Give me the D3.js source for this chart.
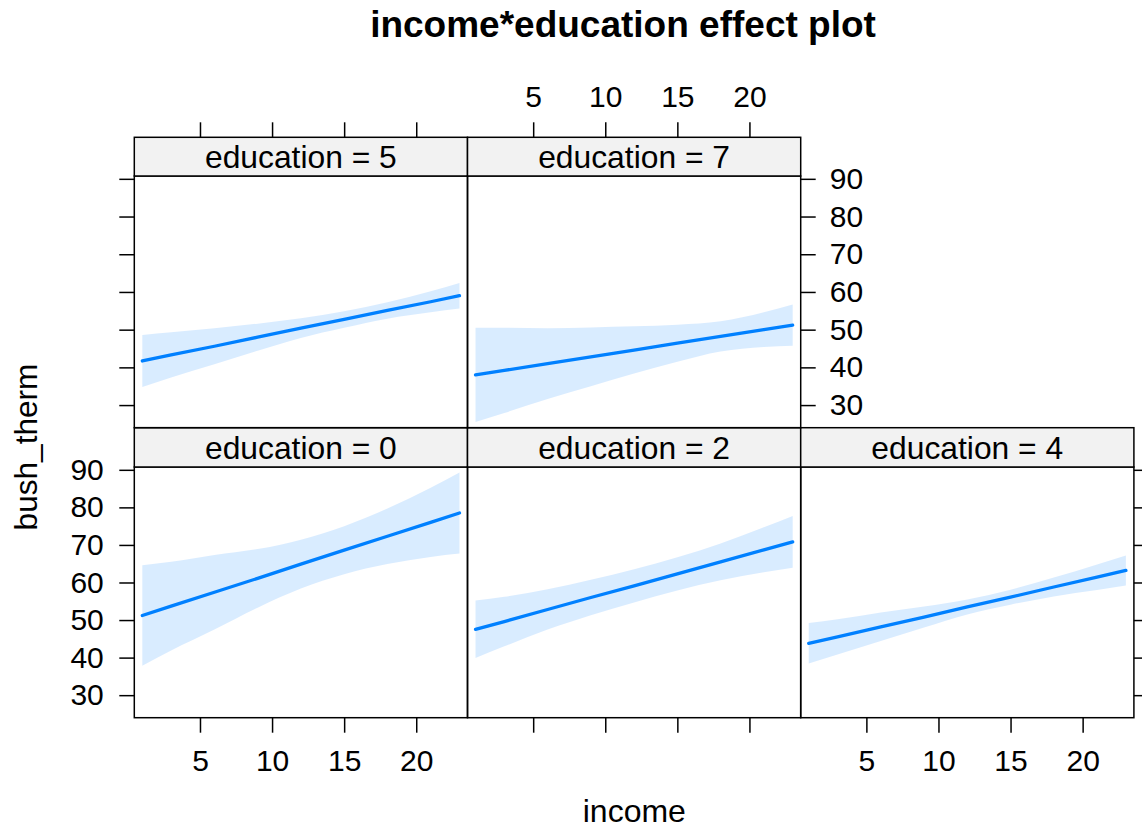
<!DOCTYPE html>
<html>
<head>
<meta charset="utf-8">
<script src="https://cdn.jsdelivr.net/npm/d3@7"></script>
<style>
  body { margin: 0; background: #ffffff; }
  svg { display: block; }
</style>
</head>
<body>
<svg id="chart" width="1142" height="829"></svg>
<script>
// Conditioning levels of education, one panel each
const educationLevels = [0, 2, 4, 5, 7];
// Income values at which the effect and its confidence band are evaluated
const incomeLevels = [1, 3, 6, 9, 12, 15, 18, 21, 23];
const incomeTicks = [5, 10, 15, 20];
const thermTicks = [30, 40, 50, 60, 70, 80, 90];

// Fitted bush_therm and 95% band, by education level
const fitEdu0   = [51.2, 53.7, 57.4, 61.1, 64.9, 68.6, 72.3, 76.0, 78.5];
const lowerEdu0 = [37.8, 41.9, 47.5, 53.3, 58.4, 62.2, 64.9, 66.8, 67.7];
const upperEdu0 = [64.6, 65.5, 67.3, 68.9, 71.4, 75.0, 79.7, 85.2, 89.3];

const fitEdu2   = [47.5, 49.6, 52.8, 56.0, 59.1, 62.3, 65.5, 68.7, 70.8];
const lowerEdu2 = [39.9, 43.0, 47.5, 51.3, 54.7, 57.9, 60.6, 62.7, 63.9];
const upperEdu2 = [55.2, 56.2, 58.2, 60.7, 63.5, 66.7, 70.4, 74.7, 77.7];

const fitEdu4   = [43.8, 45.5, 48.2, 50.8, 53.5, 56.1, 58.8, 61.4, 63.2];
const lowerEdu4 = [38.4, 40.8, 44.4, 48.0, 51.5, 54.1, 56.3, 58.0, 59.2];
const upperEdu4 = [49.2, 50.2, 52.0, 53.6, 55.5, 58.1, 61.3, 64.8, 67.2];

const fitEdu5   = [41.7, 43.3, 45.6, 48.0, 50.4, 52.7, 55.1, 57.4, 59.0];
const lowerEdu5 = [34.8, 37.3, 40.8, 44.4, 47.8, 50.5, 52.9, 54.6, 55.6];
const upperEdu5 = [48.6, 49.3, 50.4, 51.6, 53.0, 54.9, 57.3, 60.2, 62.4];

const fitEdu7   = [38.0, 39.2, 41.0, 42.8, 44.6, 46.4, 48.2, 50.0, 51.2];
const lowerEdu7 = [25.5, 27.9, 31.6, 35.0, 38.4, 41.5, 44.2, 45.4, 45.7];
const upperEdu7 = [50.5, 50.5, 50.4, 50.6, 50.9, 51.3, 52.2, 54.6, 56.7];

const fits   = [fitEdu0, fitEdu2, fitEdu4, fitEdu5, fitEdu7];
const lowers = [lowerEdu0, lowerEdu2, lowerEdu4, lowerEdu5, lowerEdu7];
const uppers = [upperEdu0, upperEdu2, upperEdu4, upperEdu5, upperEdu7];

// ---- layout -------------------------------------------------------------
const FONT = "'Liberation Sans', Arial, Helvetica, sans-serif";
const LINE_COLOR = "#0080FF";
const colLeft = [134.3, 467.5, 800.7];
const colW = 333.2;
// row 0 = bottom row, row 1 = top row
const rowsGeom = [
  { stripTop: 427.7, panelTop: 467.0, panelBottom: 717.7 },
  { stripTop: 137.3, panelTop: 176.0, panelBottom: 427.7 }
];
const TICK = 15;

const svg = d3.select("#chart");

const x = d3.scaleLinear().domain([0.444, 23.556]).range([0, colW]);
const yFor = g => d3.scaleLinear().domain([24.0, 90.75]).range([g.panelBottom, g.panelTop]);

const panels = educationLevels.map((edu, i) => ({
  edu,
  col: i < 3 ? i : i - 3,
  row: i < 3 ? 0 : 1,
  pts: incomeLevels.map((inc, k) => ({ inc, fit: fits[i][k], lo: lowers[i][k], hi: uppers[i][k] }))
}));

function styleAxis(g) {
  g.select(".domain").remove();
  g.selectAll(".tick line").attr("stroke", "#000").attr("stroke-width", 1.5);
  g.selectAll(".tick text")
    .attr("fill", "#000")
    .style("font-family", FONT)
    .style("font-size", "30px");
}

panels.forEach(p => {
  const g0 = rowsGeom[p.row];
  const y = yFor(g0);
  const left = colLeft[p.col];
  const pg = svg.append("g").attr("transform", `translate(${left},0)`);

  // confidence band
  pg.append("path")
    .datum(p.pts)
    .attr("d", d3.area().x(d => x(d.inc)).y0(d => y(d.lo)).y1(d => y(d.hi)).curve(d3.curveMonotoneX))
    .attr("fill", LINE_COLOR)
    .attr("fill-opacity", 0.15)
    .attr("stroke", "none");

  // fitted effect line
  pg.append("path")
    .datum(p.pts)
    .attr("d", d3.line().x(d => x(d.inc)).y(d => y(d.fit)))
    .attr("fill", "none")
    .attr("stroke", LINE_COLOR)
    .attr("stroke-width", 3.3)
    .attr("stroke-linecap", "round");

  // panel frame
  pg.append("rect")
    .attr("x", 0).attr("y", g0.panelTop)
    .attr("width", colW).attr("height", g0.panelBottom - g0.panelTop)
    .attr("fill", "none").attr("stroke", "#000").attr("stroke-width", 1.5);

  // strip
  pg.append("rect")
    .attr("x", 0).attr("y", g0.stripTop)
    .attr("width", colW).attr("height", g0.panelTop - g0.stripTop)
    .attr("fill", "#F2F2F2").attr("stroke", "#000").attr("stroke-width", 1.5);
  pg.append("text")
    .attr("x", colW / 2).attr("y", g0.panelTop - 7.7)
    .attr("text-anchor", "middle")
    .style("font-family", FONT).style("font-size", "31.8px")
    .attr("fill", "#000")
    .text(`education = ${p.edu}`);

  // x axes: bottom row below, top row above the strip
  if (p.row === 0) {
    const labelled = p.col !== 1;
    pg.append("g")
      .attr("transform", `translate(0,${g0.panelBottom})`)
      .call(d3.axisBottom(x).tickValues(incomeTicks).tickSize(TICK).tickPadding(17.5)
        .tickFormat(labelled ? d3.format("d") : () => ""))
      .call(styleAxis);
  } else {
    const labelled = p.col === 1;
    pg.append("g")
      .attr("transform", `translate(0,${g0.stripTop})`)
      .call(d3.axisTop(x).tickValues(incomeTicks).tickSize(TICK).tickPadding(15)
        .tickFormat(labelled ? d3.format("d") : () => ""))
      .call(styleAxis);
  }

  // y axes on the outer edges of each row
  if (p.col === 0) {
    const labelled = p.row === 0;
    pg.append("g")
      .call(d3.axisLeft(y).tickValues(thermTicks).tickSize(TICK).tickPadding(15.5)
        .tickFormat(labelled ? d3.format("d") : () => ""))
      .call(styleAxis);
  }
  const lastCol = p.row === 0 ? 2 : 1;
  if (p.col === lastCol) {
    const labelled = p.row === 1;
    pg.append("g")
      .attr("transform", `translate(${colW},0)`)
      .call(d3.axisRight(y).tickValues(thermTicks).tickSize(TICK).tickPadding(14)
        .tickFormat(labelled ? d3.format("d") : () => ""))
      .call(styleAxis);
  }
});

// titles
svg.append("text")
  .attr("x", 623).attr("y", 36.7)
  .attr("text-anchor", "middle")
  .style("font-family", FONT).style("font-size", "37px").style("font-weight", "bold")
  .attr("fill", "#000")
  .text("income*education effect plot");

svg.append("text")
  .attr("x", 634.3).attr("y", 822)
  .attr("text-anchor", "middle")
  .style("font-family", FONT).style("font-size", "32px")
  .attr("fill", "#000")
  .text("income");

svg.append("text")
  .attr("transform", "translate(37,447) rotate(-90)")
  .attr("text-anchor", "middle")
  .style("font-family", FONT).style("font-size", "31.6px")
  .attr("fill", "#000")
  .text("bush_therm");
</script>
</body>
</html>
